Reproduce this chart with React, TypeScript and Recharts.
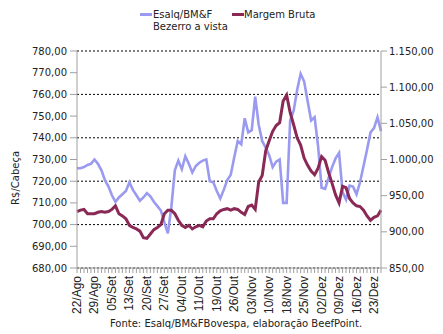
import React from 'react'
import {
  LineChart,
  Line,
  XAxis,
  YAxis,
  CartesianGrid
} from 'recharts'

// business days, 22/Ago to 27/Dez
const dates = [
  '22/Ago', '23/Ago', '24/Ago', '25/Ago', '26/Ago', '29/Ago', '30/Ago', '31/Ago',
  '01/Set', '02/Set', '05/Set', '06/Set', '08/Set', '09/Set', '12/Set', '13/Set', '14/Set', '15/Set', '16/Set',
  '19/Set', '20/Set', '21/Set', '22/Set', '23/Set', '26/Set', '27/Set', '28/Set', '29/Set', '30/Set',
  '03/Out', '04/Out', '05/Out', '06/Out', '07/Out', '10/Out', '11/Out', '13/Out', '14/Out', '17/Out', '18/Out',
  '19/Out', '20/Out', '21/Out', '24/Out', '25/Out', '26/Out', '27/Out', '28/Out', '31/Out',
  '01/Nov', '03/Nov', '04/Nov', '07/Nov', '08/Nov', '09/Nov', '10/Nov', '11/Nov', '14/Nov', '16/Nov', '17/Nov',
  '18/Nov', '21/Nov', '22/Nov', '23/Nov', '24/Nov', '25/Nov', '28/Nov', '29/Nov', '30/Nov',
  '01/Dez', '02/Dez', '05/Dez', '06/Dez', '07/Dez', '08/Dez', '09/Dez', '12/Dez', '13/Dez', '14/Dez', '15/Dez',
  '16/Dez', '19/Dez', '20/Dez', '21/Dez', '22/Dez', '23/Dez', '26/Dez', '27/Dez'
]

// Esalq/BM&F Bezerro a vista (R$/cabeça, left axis)
const esalq = [
  726, 726, 726.5, 727.5, 728, 730, 728, 725, 720.5, 717.5,
  713.5, 710.5, 712.5, 714, 715.5, 719.5, 716, 713.5, 711, 712.5,
  714.5, 713, 710.5, 708.5, 706.5, 701, 696, 708, 725, 729.5,
  725.5, 731.5, 728, 724, 727, 728.5, 729.5, 730, 720, 719.5,
  715.5, 712, 716, 720.5, 723, 731, 738.5, 737, 749, 742.5,
  743.5, 759, 746, 738.5, 735.5, 732, 726.5, 729, 730, 710,
  710, 748, 752.5, 762, 769.5, 766, 757, 748, 749.5, 736,
  717, 716.5, 721.5, 726.5, 730.5, 733, 715, 711.5, 718, 717.5,
  714, 719.5, 727, 734.5, 742.5, 744.5, 749.5, 743
]

// Margem Bruta (right axis)
const margem = [
  928, 930, 931, 925, 925, 925, 927, 928, 927, 928,
  931, 936, 925, 922, 918, 909, 906, 904, 901, 892,
  891, 897, 903, 906, 910, 925, 930, 930, 925, 916,
  909, 906, 909, 904, 907, 909, 907, 915, 918, 918,
  925, 929, 931, 932, 930, 932, 931, 927, 924, 935,
  937, 931, 969, 978, 1012, 1026, 1039, 1047, 1051, 1081,
  1089, 1065, 1048, 1030, 1020, 1002, 992, 984, 979, 988,
  1004, 999, 982, 967, 951, 940, 963, 961, 946, 940,
  936, 935, 930, 922, 916, 920, 922, 930
]

const leftTicks = [680, 690, 700, 710, 720, 730, 740, 750, 760, 770, 780]
const rightTicks = [850, 900, 950, 1000, 1050, 1100, 1150]

const data = dates.map((d, i) => ({ date: d, esalq: esalq[i], margem: margem[i] }))

const BLUE = '#9a9af0'
const MAROON = '#8a2955'
const AXIS = '#a0a0a0'
const FONT = 'DejaVu Sans'

function fmt(v: number) {
  const [int, dec] = v.toFixed(2).split('.')
  return int.replace(/\B(?=(\d{3})+(?!\d))/g, '.') + ',' + dec
}

function DateTick(props: any) {
  const { x, y, payload, index } = props
  if (index % 5 !== 0) return null
  return (
    <text
      x={x}
      y={y}
      dy={4}
      transform={`rotate(-90, ${x}, ${y})`}
      textAnchor="end"
      fontSize={12}
      fontFamily="Liberation Sans"
      fill="#222"
    >
      {payload.value}
    </text>
  )
}

function YLabel(props: any) {
  const { viewBox } = props
  const cx = viewBox.x + 15
  const cy = viewBox.y + viewBox.height * 0.585
  return (
    <text x={cx} y={cy} dy={4} transform={`rotate(-90, ${cx}, ${cy})`} textAnchor="middle" fontSize={10} fontFamily={FONT} fill="#222">
      R$/Cabeça
    </text>
  )
}

function Legend() {
  return (
    <div style={{ position: 'absolute', left: 0, top: 0, fontFamily: FONT, fontSize: 10, color: '#222', lineHeight: '12px' }}>
      <div style={{ position: 'absolute', left: 140, top: 13, width: 12, height: 3, background: BLUE }} />
      <div style={{ position: 'absolute', left: 153, top: 9, whiteSpace: 'nowrap' }}>
        Esalq/BM&amp;F<br />Bezerro a vista
      </div>
      <div style={{ position: 'absolute', left: 232, top: 13, width: 12, height: 3, background: MAROON }} />
      <div style={{ position: 'absolute', left: 244, top: 9, whiteSpace: 'nowrap' }}>Margem Bruta</div>
    </div>
  )
}

export default function App() {
  return (
    <div style={{ position: 'absolute', left: 0, top: 0, width: 443, height: 334, background: '#fff' }}>
      <LineChart width={443} height={334} data={data} margin={{ top: 51, right: 0, bottom: 0, left: 0 }}>
        <CartesianGrid vertical={false} stroke="#000" strokeDasharray="2 2" yAxisId="left" />
        <XAxis
          dataKey="date"
          interval={0}
          height={66}
          tick={<DateTick />}
          tickSize={5}
          tickMargin={3}
          stroke={AXIS}
          label={{ value: 'Fonte: Esalq/BM&FBovespa, elaboração BeefPoint.', position: 'insideBottom', offset: 7, dx: 7, fontSize: 10, fontFamily: FONT, fill: '#222' }}
        />
        <YAxis
          yAxisId="left"
          width={77}
          domain={[680, 780]}
          ticks={leftTicks}
          tickFormatter={fmt}
          tickSize={7}
          tickMargin={3}
          stroke={AXIS}
          tick={{ fontSize: 10, fontFamily: FONT, fill: '#222' }}
          label={<YLabel />}
        />
        <YAxis
          yAxisId="right"
          orientation="right"
          width={62}
          domain={[850, 1150]}
          ticks={rightTicks}
          tickFormatter={fmt}
          tickSize={6}
          tickMargin={2}
          stroke={AXIS}
          tick={{ fontSize: 10, fontFamily: FONT, fill: '#222' }}
        />
        <Line yAxisId="left" dataKey="esalq" stroke={BLUE} strokeWidth={2.6} dot={false} isAnimationActive={false} />
        <Line yAxisId="right" dataKey="margem" stroke={MAROON} strokeWidth={3} dot={false} isAnimationActive={false} />
      </LineChart>
      <Legend />
    </div>
  )
}
